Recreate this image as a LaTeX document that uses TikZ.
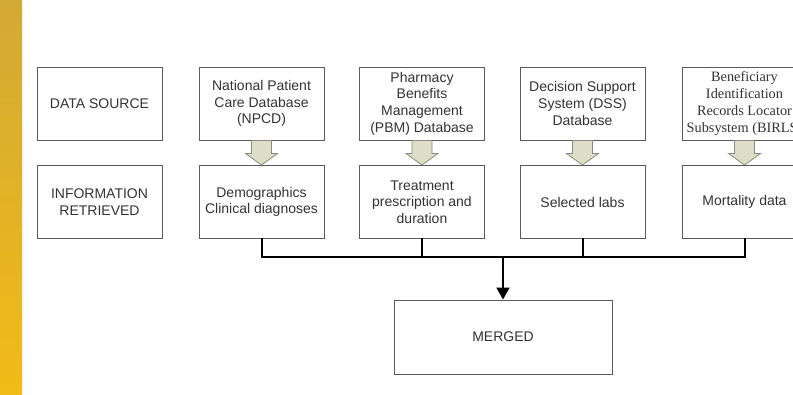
\documentclass[tikz,border=0pt]{standalone}
\usepackage{fontspec}
\setmainfont{Liberation Sans}
\newfontfamily\serifb{Liberation Serif}
\usetikzlibrary{arrows.meta,calc}
\definecolor{goldtop}{HTML}{D2A935}
\definecolor{goldbot}{HTML}{F2BB18}
\definecolor{boxgray}{HTML}{5A5A5A}
\definecolor{txt}{HTML}{333333}
\definecolor{blkfill}{HTML}{DCDEC8}
\definecolor{blkline}{HTML}{8A8A80}
\tikzset{
  box/.style={draw=boxgray, line width=1pt, minimum width=125pt, minimum height=73pt,
    align=center, inner sep=0pt, text=txt, font=\fontsize{14}{16.7}\selectfont},
  blk/.style={fill=blkfill, draw=blkline, line width=0.8pt},
  bus/.style={line width=2pt, black, line cap=rect}
}
\newcommand\blockarrow[2]{%
  \draw[blk] ($(#1.south)+(-10pt,0pt)$) -- ($(#1.south)+(-10pt,-13pt)$) -- ($(#1.south)+(-16pt,-13pt)$)
    -- (#2.north) -- ($(#1.south)+(16pt,-13pt)$) -- ($(#1.south)+(10pt,-13pt)$)
    -- ($(#1.south)+(10pt,0pt)$) -- cycle;}
\begin{document}
\begin{tikzpicture}[x=1pt,y=-1pt]
\useasboundingbox (0,0) rectangle (793,394);
\clip (0,0) rectangle (793,394);
\fill[white] (0,0) rectangle (793,394);
\shade[top color=goldtop, bottom color=goldbot] (0,0) rectangle (22,394);

\node[box] (s0) at (99.5,103.5) {DATA SOURCE};
\node[box] (i0) at (99.5,202) {INFORMATION\\RETRIEVED};

\node[box] (s1) at (261.5,103.5) {National Patient\\Care Database\\(NPCD)};
\node[box] (s2) at (422,103.5) {Pharmacy\\Benefits\\Management\\(PBM) Database};
\node[box] (s3) at (582.5,103.5) {Decision Support\\System (DSS)\\Database};
\node[box, font=\serifb\fontsize{14.3}{17}\selectfont] (s4) at (744.5,103.5) {Beneficiary\\Identification\\Records Locator\\Subsystem (BIRLS)};

\node[box] (i1) at (261.5,202) {Demographics\\Clinical diagnoses};
\node[box] (i2) at (422,202) {Treatment\\prescription and\\duration};
\node[box] (i3) at (582.5,202) {Selected labs};
\node[box] (i4) at (744.5,202) {Mortality data};

\node[box, minimum width=218pt, minimum height=74pt] (m) at (503,337) {MERGED};

\blockarrow{s1}{i1}
\blockarrow{s2}{i2}
\blockarrow{s3}{i3}
\blockarrow{s4}{i4}

\coordinate (j) at (503,257);
\draw[bus, line join=miter] (i1.south) |- (j) -| (i4.south);
\draw[bus] (i2.south) -- (i2.south |- j);
\draw[bus] (i3.south) -- (i3.south |- j);
\draw[line width=2pt, -{Triangle[length=12pt,width=13pt]}] (j) -- (m.north);
\end{tikzpicture}
\end{document}
